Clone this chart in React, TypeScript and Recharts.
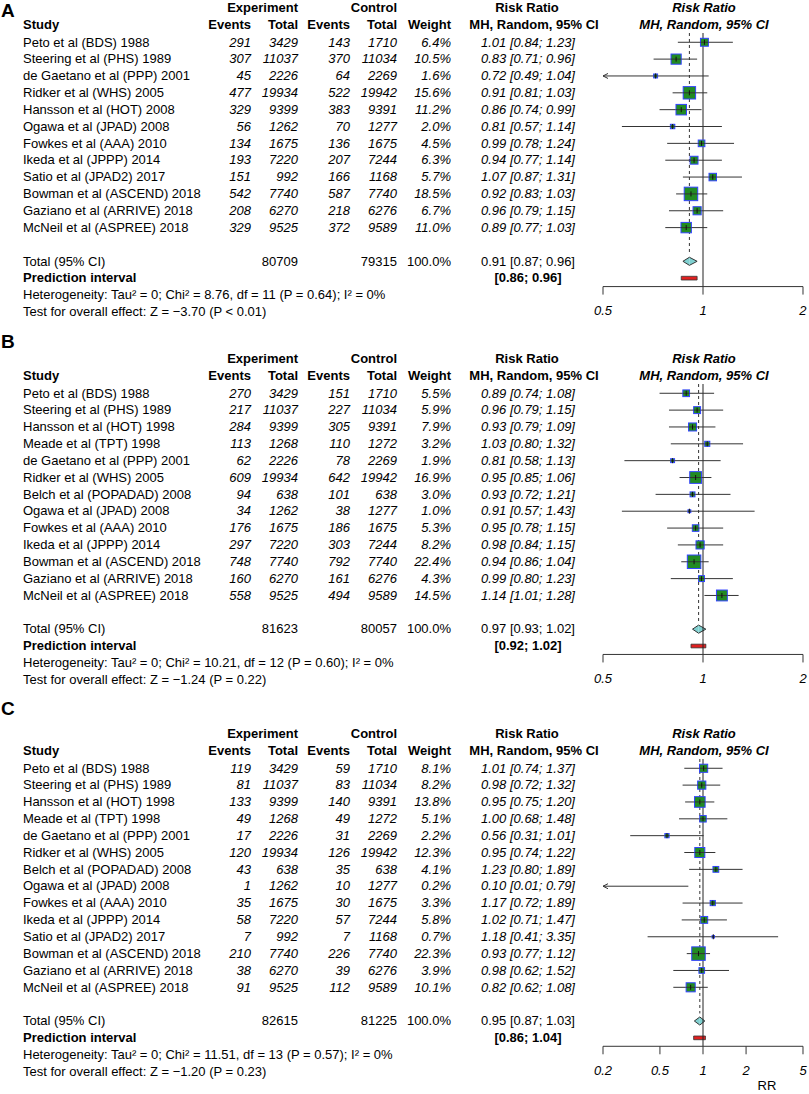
import React from "react";
import { ReferenceArea, ReferenceLine, Scatter, ScatterChart, XAxis, YAxis } from "recharts";

/* Three forest plots (aspirin trials, MH random-effects risk ratios).
   Left part is a plain SVG table, right part is a Recharts scatter on a log axis. */

const FONT = '"Liberation Sans", Arial, Helvetica, sans-serif';
const ROW = 16.85; // row pitch
const PLOT_L = 603; // left end of each forest axis
const PLOT_W = 200;
const PAD = 14;
const MAX_SIDE = 13.5; // square side for the heaviest study
const COL = { study: 23, expEv: 251, expTot: 298, ctlEv: 350, ctlTot: 397, weight: 451, rr: 528, plot: 704 };

// ---- A
const studiesA = [
  "Peto et al (BDS) 1988", "Steering et al (PHS) 1989", "de Gaetano et al (PPP) 2001", "Ridker et al (WHS) 2005",
  "Hansson et al (HOT) 2008", "Ogawa et al (JPAD) 2008", "Fowkes et al (AAA) 2010", "Ikeda et al (JPPP) 2014",
  "Satio et al (JPAD2) 2017", "Bowman et al (ASCEND) 2018", "Gaziano et al (ARRIVE) 2018", "McNeil et al (ASPREE) 2018",
];
const expEventsA = [291, 307, 45, 477, 329, 56, 134, 193, 151, 542, 208, 329];
const expTotalA = [3429, 11037, 2226, 19934, 9399, 1262, 1675, 7220, 992, 7740, 6270, 9525];
const ctlEventsA = [143, 370, 64, 522, 383, 70, 136, 207, 166, 587, 218, 372];
const ctlTotalA = [1710, 11034, 2269, 19942, 9391, 1277, 1675, 7244, 1168, 7740, 6276, 9589];
const weightA = [6.4, 10.5, 1.6, 15.6, 11.2, 2.0, 4.5, 6.3, 5.7, 18.5, 6.7, 11.0];
const rrA = [1.01, 0.83, 0.72, 0.91, 0.86, 0.81, 0.99, 0.94, 1.07, 0.92, 0.96, 0.89];
const loA = [0.84, 0.71, 0.49, 0.81, 0.74, 0.57, 0.78, 0.77, 0.87, 0.83, 0.79, 0.77];
const hiA = [1.23, 0.96, 1.04, 1.03, 0.99, 1.14, 1.24, 1.14, 1.31, 1.03, 1.15, 1.03];
const totalsA = [80709, 79315];
const pooledA = [0.91, 0.87, 0.96];
const predA = [0.86, 0.96];
const hetA = "Heterogeneity: Tau² = 0; Chi² = 8.76, df = 11 (P = 0.64); I² = 0%";
const testA = "Test for overall effect: Z = −3.70 (P < 0.01)";

// ---- B
const studiesB = [
  "Peto et al (BDS) 1988", "Steering et al (PHS) 1989", "Hansson et al (HOT) 1998", "Meade et al (TPT) 1998",
  "de Gaetano et al (PPP) 2001", "Ridker et al (WHS) 2005", "Belch et al (POPADAD) 2008", "Ogawa et al (JPAD) 2008",
  "Fowkes et al (AAA) 2010", "Ikeda et al (JPPP) 2014", "Bowman et al (ASCEND) 2018", "Gaziano et al (ARRIVE) 2018",
  "McNeil et al (ASPREE) 2018",
];
const expEventsB = [270, 217, 284, 113, 62, 609, 94, 34, 176, 297, 748, 160, 558];
const expTotalB = [3429, 11037, 9399, 1268, 2226, 19934, 638, 1262, 1675, 7220, 7740, 6270, 9525];
const ctlEventsB = [151, 227, 305, 110, 78, 642, 101, 38, 186, 303, 792, 161, 494];
const ctlTotalB = [1710, 11034, 9391, 1272, 2269, 19942, 638, 1277, 1675, 7244, 7740, 6276, 9589];
const weightB = [5.5, 5.9, 7.9, 3.2, 1.9, 16.9, 3.0, 1.0, 5.3, 8.2, 22.4, 4.3, 14.5];
const rrB = [0.89, 0.96, 0.93, 1.03, 0.81, 0.95, 0.93, 0.91, 0.95, 0.98, 0.94, 0.99, 1.14];
const loB = [0.74, 0.79, 0.79, 0.80, 0.58, 0.85, 0.72, 0.57, 0.78, 0.84, 0.86, 0.80, 1.01];
const hiB = [1.08, 1.15, 1.09, 1.32, 1.13, 1.06, 1.21, 1.43, 1.15, 1.15, 1.04, 1.23, 1.28];
const totalsB = [81623, 80057];
const pooledB = [0.97, 0.93, 1.02];
const predB = [0.92, 1.02];
const hetB = "Heterogeneity: Tau² = 0; Chi² = 10.21, df = 12 (P = 0.60); I² = 0%";
const testB = "Test for overall effect: Z = −1.24 (P = 0.22)";

// ---- C
const studiesC = [
  "Peto et al (BDS) 1988", "Steering et al (PHS) 1989", "Hansson et al (HOT) 1998", "Meade et al (TPT) 1998",
  "de Gaetano et al (PPP) 2001", "Ridker et al (WHS) 2005", "Belch et al (POPADAD) 2008", "Ogawa et al (JPAD) 2008",
  "Fowkes et al (AAA) 2010", "Ikeda et al (JPPP) 2014", "Satio et al (JPAD2) 2017", "Bowman et al (ASCEND) 2018",
  "Gaziano et al (ARRIVE) 2018", "McNeil et al (ASPREE) 2018",
];
const expEventsC = [119, 81, 133, 49, 17, 120, 43, 1, 35, 58, 7, 210, 38, 91];
const expTotalC = [3429, 11037, 9399, 1268, 2226, 19934, 638, 1262, 1675, 7220, 992, 7740, 6270, 9525];
const ctlEventsC = [59, 83, 140, 49, 31, 126, 35, 10, 30, 57, 7, 226, 39, 112];
const ctlTotalC = [1710, 11034, 9391, 1272, 2269, 19942, 638, 1277, 1675, 7244, 1168, 7740, 6276, 9589];
const weightC = [8.1, 8.2, 13.8, 5.1, 2.2, 12.3, 4.1, 0.2, 3.3, 5.8, 0.7, 22.3, 3.9, 10.1];
const rrC = [1.01, 0.98, 0.95, 1.00, 0.56, 0.95, 1.23, 0.10, 1.17, 1.02, 1.18, 0.93, 0.98, 0.82];
const loC = [0.74, 0.72, 0.75, 0.68, 0.31, 0.74, 0.80, 0.01, 0.72, 0.71, 0.41, 0.77, 0.62, 0.62];
const hiC = [1.37, 1.32, 1.20, 1.48, 1.01, 1.22, 1.89, 0.79, 1.89, 1.47, 3.35, 1.12, 1.52, 1.08];
const totalsC = [82615, 81225];
const pooledC = [0.95, 0.87, 1.03];
const predC = [0.86, 1.04];
const hetC = "Heterogeneity: Tau² = 0; Chi² = 11.51, df = 13 (P = 0.57); I² = 0%";
const testC = "Test for overall effect: Z = −1.20 (P = 0.23)";

const ticksAB = [0.5, 1, 2];
const ticksC = [0.2, 0.5, 1, 2, 5];

const panels = [
  { label: "A", baseY: 42, labelY: 10, names: studiesA, expEv: expEventsA, expTot: expTotalA, ctlEv: ctlEventsA, ctlTot: ctlTotalA,
    weight: weightA, rr: rrA, lo: loA, hi: hiA, totals: totalsA, pooled: pooledA, pred: predA, het: hetA, test: testA, ticks: ticksAB, xlab: "" },
  { label: "B", baseY: 393, labelY: 341, names: studiesB, expEv: expEventsB, expTot: expTotalB, ctlEv: ctlEventsB, ctlTot: ctlTotalB,
    weight: weightB, rr: rrB, lo: loB, hi: hiB, totals: totalsB, pooled: pooledB, pred: predB, het: hetB, test: testB, ticks: ticksAB, xlab: "" },
  { label: "C", baseY: 768, labelY: 708, names: studiesC, expEv: expEventsC, expTot: expTotalC, ctlEv: ctlEventsC, ctlTot: ctlTotalC,
    weight: weightC, rr: rrC, lo: loC, hi: hiC, totals: totalsC, pooled: pooledC, pred: predC, het: hetC, test: testC, ticks: ticksC, xlab: "RR" },
];

type Panel = (typeof panels)[number];

const ci = (est: number, lo: number, hi: number) => `${est.toFixed(2)} [${lo.toFixed(2)}; ${hi.toFixed(2)}]`;

function PanelText({ p }: { p: Panel }) {
  const n = p.names.length;
  const y = (r: number) => p.baseY + r * ROW;
  const hy1 = p.baseY - 35;
  const hy2 = p.baseY - 18;
  const right = { textAnchor: "end" as const };
  const mid = { textAnchor: "middle" as const };
  return (
    <g>
      <text x={1} y={p.labelY} fontSize={19} fontWeight="bold">{p.label}</text>
      <g fontWeight="bold">
        <text x={COL.expTot} y={hy1} {...right}>Experiment</text>
        <text x={COL.ctlTot} y={hy1} {...right}>Control</text>
        <text x={527} y={hy1} {...mid}>Risk Ratio</text>
        <text x={COL.study} y={hy2}>Study</text>
        <text x={COL.expEv} y={hy2} {...right}>Events</text>
        <text x={COL.expTot} y={hy2} {...right}>Total</text>
        <text x={COL.ctlEv} y={hy2} {...right}>Events</text>
        <text x={COL.ctlTot} y={hy2} {...right}>Total</text>
        <text x={COL.weight} y={hy2} {...right}>Weight</text>
        <text x={534} y={hy2} {...mid}>MH, Random, 95% CI</text>
        <g fontStyle="italic">
          <text x={COL.plot} y={hy1} {...mid}>Risk Ratio</text>
          <text x={COL.plot} y={hy2} {...mid}>MH, Random, 95% CI</text>
        </g>
      </g>
      {p.names.map((name, i) => (
        <g key={name}>
          <text x={COL.study} y={y(i)}>{name}</text>
          <g fontStyle="italic">
            <text x={COL.expEv} y={y(i)} {...right}>{p.expEv[i]}</text>
            <text x={COL.expTot} y={y(i)} {...right}>{p.expTot[i]}</text>
            <text x={COL.ctlEv} y={y(i)} {...right}>{p.ctlEv[i]}</text>
            <text x={COL.ctlTot} y={y(i)} {...right}>{p.ctlTot[i]}</text>
            <text x={COL.weight} y={y(i)} {...right}>{p.weight[i].toFixed(1)}%</text>
            <text x={COL.rr} y={y(i)} {...mid}>{ci(p.rr[i], p.lo[i], p.hi[i])}</text>
          </g>
        </g>
      ))}
      <text x={COL.study} y={y(n + 1)}>Total (95% CI)</text>
      <text x={COL.expTot} y={y(n + 1)} {...right}>{p.totals[0]}</text>
      <text x={COL.ctlTot} y={y(n + 1)} {...right}>{p.totals[1]}</text>
      <text x={COL.weight} y={y(n + 1)} {...right}>100.0%</text>
      <text x={COL.rr} y={y(n + 1)} {...mid}>{ci(p.pooled[0], p.pooled[1], p.pooled[2])}</text>
      <text x={COL.study} y={y(n + 2)} fontWeight="bold">Prediction interval</text>
      <text x={COL.rr} y={y(n + 2)} fontWeight="bold" {...mid}>{`[${p.pred[0].toFixed(2)}; ${p.pred[1].toFixed(2)}]`}</text>
      <text x={COL.study} y={y(n + 3)}>{p.het}</text>
      <text x={COL.study} y={y(n + 4)}>{p.test}</text>
      {p.xlab && <text x={767} y={y(n + 2.5) + 39} {...mid}>{p.xlab}</text>}
    </g>
  );
}

function CiLine(props: any) {
  const { x1, y1, x2, y2, arrowLo } = props;
  const dir = x2 < x1 ? 1 : -1;
  return (
    <g>
      <line x1={x1} y1={y1} x2={x2} y2={y2} stroke="#333" strokeWidth={1} />
      {arrowLo && (
        <polyline points={`${x2 + dir * 5},${y2 - 2.5} ${x2},${y2} ${x2 + dir * 5},${y2 + 2.5}`} fill="none" stroke="#333" strokeWidth={1} />
      )}
    </g>
  );
}

function StudySquare(props: any) {
  const { cx, cy, payload } = props;
  const s = payload.side;
  return (
    <g>
      <rect x={cx - s / 2} y={cy - s / 2} width={s} height={s} fill="#228b22" stroke="#3344ff" strokeWidth={1} />
      <line x1={cx - s / 2} x2={cx + s / 2} y1={cy} y2={cy} stroke="#333" strokeWidth={1} />
      <line x1={cx} x2={cx} y1={cy - 2.5} y2={cy + 2.5} stroke="#111" strokeWidth={1} />
    </g>
  );
}

function DiamondHalf(props: any) {
  const { x, y, width: w, height: h, side } = props;
  const pts =
    side === "left"
      ? [[x + w, y], [x, y + h / 2], [x + w, y + h]]
      : [[x, y], [x + w, y + h / 2], [x, y + h]];
  const str = pts.map((q) => q.join(",")).join(" ");
  return (
    <g>
      <polygon points={str} fill="#7fd0d0" stroke="none" />
      <polyline points={str} fill="none" stroke="#333" strokeWidth={1} />
    </g>
  );
}

function Forest({ p }: { p: Panel }) {
  const n = p.names.length;
  const top = -0.55;
  const bottom = n + 2.5;
  const plotTop = p.baseY + top * ROW;
  const plotH = (bottom - top) * ROW;
  const axisH = 32;
  const dMin = p.ticks[0];
  const dMax = p.ticks[p.ticks.length - 1];
  const wmax = Math.max(...p.weight);
  const points = p.rr
    .map((v, i) => ({ x: v, y: i, side: MAX_SIDE * Math.sqrt(p.weight[i] / wmax) }))
    .filter((d) => d.x >= dMin && d.x <= dMax);

  return (
    <div style={{ position: "absolute", left: PLOT_L - PAD, top: plotTop }}>
      <ScatterChart width={PLOT_W + 2 * PAD} height={plotH + axisH} margin={{ top: 0, right: PAD, bottom: 0, left: PAD }}>
        <XAxis
          type="number"
          dataKey="x"
          scale="log"
          domain={[dMin, dMax]}
          ticks={p.ticks}
          interval={0}
          allowDataOverflow
          height={axisH}
          tickSize={8}
          tickMargin={11}
          stroke="#333"
          tick={{ fontSize: 13, fontStyle: "italic", fill: "#000", fontFamily: FONT }}
        />
        <YAxis type="number" dataKey="y" hide reversed domain={[top, bottom]} allowDataOverflow />
        <ReferenceLine x={1} stroke="#222" strokeWidth={1} />
        <ReferenceLine
          segment={[{ x: p.pooled[0], y: top }, { x: p.pooled[0], y: n + 0.55 }]}
          stroke="#333"
          strokeDasharray="3 3"
          ifOverflow="visible"
        />
        {p.rr.map((_, i) => {
          const lo = Math.max(p.lo[i], dMin);
          const hi = Math.min(p.hi[i], dMax);
          const arrowLo = p.lo[i] < dMin;
          return (
            <ReferenceLine
              key={i}
              segment={[{ x: hi, y: i }, { x: lo, y: i }]}
              ifOverflow="visible"
              shape={(sp: any) => <CiLine {...sp} arrowLo={arrowLo} />}
            />
          );
        })}
        <Scatter data={points} isAnimationActive={false} shape={StudySquare} />
        <ReferenceArea
          x1={p.pooled[1]}
          x2={p.pooled[0]}
          y1={n + 1 - 0.24}
          y2={n + 1 + 0.24}
          ifOverflow="visible"
          shape={(rp: any) => <DiamondHalf {...rp} side="left" />}
        />
        <ReferenceArea
          x1={p.pooled[0]}
          x2={p.pooled[2]}
          y1={n + 1 - 0.24}
          y2={n + 1 + 0.24}
          ifOverflow="visible"
          shape={(rp: any) => <DiamondHalf {...rp} side="right" />}
        />
        <ReferenceArea
          x1={p.pred[0]}
          x2={p.pred[1]}
          y1={n + 2 - 0.11}
          y2={n + 2 + 0.11}
          ifOverflow="visible"
          fill="#e02020"
          fillOpacity={1}
          stroke="#333"
          strokeWidth={0.8}
        />
      </ScatterChart>
    </div>
  );
}

export default function App() {
  return (
    <div style={{ position: "absolute", left: 0, top: 0, width: 809, height: 1094, background: "#fff", fontFamily: FONT }}>
      <svg width={809} height={1094} style={{ position: "absolute", left: 0, top: 0 }} fontFamily={FONT} fontSize={13} fill="#000">
        <g dominantBaseline="central">
          {panels.map((p) => (
            <PanelText key={p.label} p={p} />
          ))}
        </g>
      </svg>
      {panels.map((p) => (
        <Forest key={p.label} p={p} />
      ))}
    </div>
  );
}
